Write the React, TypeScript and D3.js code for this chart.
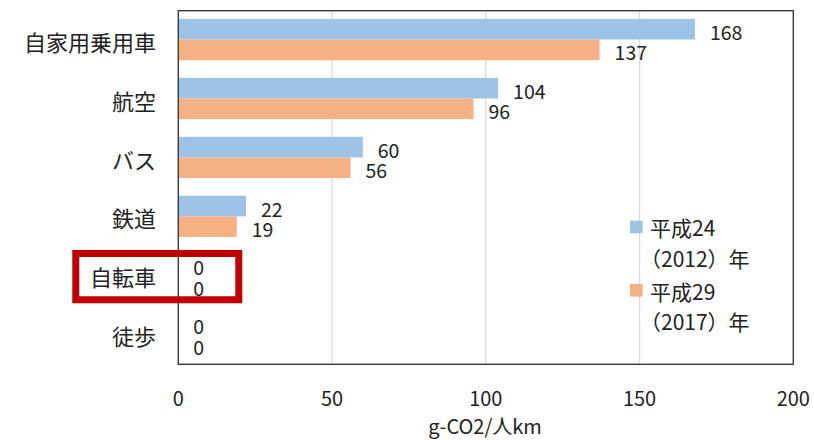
import React from "react";
import * as d3 from "d3";

const categories = ["自家用乗用車", "航空", "バス", "鉄道", "自転車", "徒歩"];
const series2012 = [168, 104, 60, 22, 0, 0];
const series2017 = [137, 96, 56, 19, 0, 0];
const seriesNames = [["平成24", "（2012）年"], ["平成29", "（2017）年"]];
const xTicks = [0, 50, 100, 150, 200];
const axisTitle = "g-CO2/人km";
const highlighted = "自転車";

const W = 814;
const H = 440;
const colors = ["#9DC3E6", "#F4B183"];
const FONT = "'Noto Sans CJK JP', 'Noto Sans', sans-serif";

export default function App() {
  const plot = { left: 178.3, right: 793.3, top: 10.7, bottom: 364.3 };
  const x = d3.scaleLinear().domain([0, 200]).range([plot.left, plot.right]);
  const y = d3
    .scaleBand<string>()
    .domain(categories)
    .range([plot.top, plot.bottom])
    .paddingInner(0.3)
    .paddingOuter(0.15);
  const sub = d3
    .scaleBand<number>()
    .domain([0, 1])
    .range([0, y.bandwidth()]);
  const allSeries = [series2012, series2017];

  const hb = y(highlighted)!;

  return (
    <svg
      width={W}
      height={H}
      style={{ position: "absolute", left: 0, top: 0, background: "#fff" }}
      fontFamily={FONT}
    >
      <rect x={0} y={0} width={W} height={H} fill="#fff" />
      {xTicks.slice(1, -1).map((t) => (
        <line
          key={t}
          x1={x(t)}
          x2={x(t)}
          y1={plot.top}
          y2={plot.bottom}
          stroke="#d9d9d9"
          strokeWidth={1.2}
        />
      ))}
      {allSeries.map((s, si) =>
        categories.map((c, ci) => {
          const by = y(c)! - 0.6 + sub(si)!;
          const bh = sub.bandwidth();
          const v = s[ci];
          return (
            <g key={`${si}-${ci}`}>
              {v > 0 && (
                <rect
                  x={x(0)}
                  y={by}
                  width={x(v) - x(0)}
                  height={bh}
                  fill={colors[si]}
                />
              )}
              <text
                x={x(v) + 15}
                y={by + bh / 2 + 2}
                dominantBaseline="central"
                fontSize={19.5}
                fill="#222"
              >
                {v}
              </text>
            </g>
          );
        })
      )}
      <rect
        x={plot.left}
        y={plot.top}
        width={plot.right - plot.left}
        height={plot.bottom - plot.top}
        fill="none"
        stroke="#3a3a3a"
        strokeWidth={1.4}
      />
      {categories.map((c) => (
        <text
          key={c}
          x={156}
          y={y(c)! + y.bandwidth() / 2 + 0.5}
          textAnchor="end"
          dominantBaseline="central"
          fontSize={22}
          fill="#222"
        >
          {c}
        </text>
      ))}
      {xTicks.map((t) => (
        <text
          key={t}
          x={x(t)}
          y={397}
          textAnchor="middle"
          dominantBaseline="central"
          fontSize={20}
          fill="#222"
        >
          {t}
        </text>
      ))}
      <text
        x={485}
        y={425}
        textAnchor="middle"
        dominantBaseline="central"
        fontSize={20}
        fill="#222"
      >
        {axisTitle}
      </text>
      {seriesNames.map((n, i) => {
        const top = 220.7 + i * 63.3;
        return (
          <g key={i}>
            <rect x={630} y={top} width={12.6} height={12.6} fill={colors[i]} />
            <text x={650} y={top + 6.5} dominantBaseline="central" fontSize={21} fill="#222">
              {n[0]}
            </text>
            <text
              x={640}
              y={top + 36.8}
              dominantBaseline="central"
              fontSize={21}
              fill="#222"
            >
              {n[1]}
            </text>
          </g>
        );
      })}
      <rect
        x={75.8}
        y={hb - 1.8}
        width={163}
        height={46.3}
        fill="none"
        stroke="#C00000"
        strokeWidth={7}
      />
    </svg>
  );
}
